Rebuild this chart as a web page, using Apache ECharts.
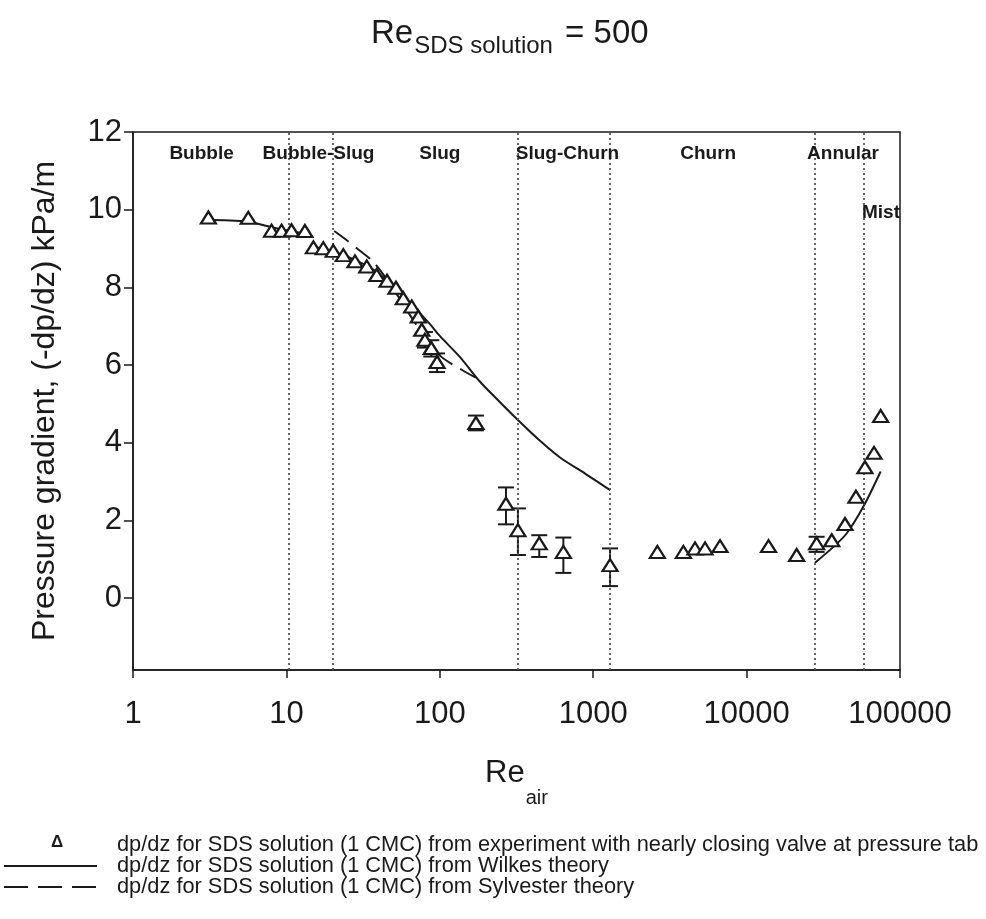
<!DOCTYPE html>
<html>
<head>
<meta charset="utf-8">
<title>Re SDS solution = 500</title>
<script src="https://cdn.jsdelivr.net/npm/echarts@6/dist/echarts.min.js"></script>
<style>
  html, body { margin: 0; padding: 0; background: #ffffff; }
  #chart { width: 986px; height: 919px; }
</style>
</head>
<body>
<div id="chart"></div>
<script>
// Experimental pressure gradient (kPa/m) against air Reynolds number
const expRe   = [3.1, 5.64, 8.0, 9.3, 10.8, 13.2, 15.0, 17.4, 20.2, 23.5, 28.0, 33.4, 38.8, 45.3, 51.8, 57.8, 65.6, 72.4, 76.3, 80, 88, 96,
                 172, 270, 323, 445, 639, 1288, 2620, 3870, 4610, 5360, 6710, 13900, 21200, 28600, 35900, 43800, 51600, 59100, 67700, 74800];
const expDpdz = [9.80, 9.79, 9.46, 9.46, 9.47, 9.45, 9.03, 9.01, 8.94, 8.83, 8.67, 8.54, 8.32, 8.17, 7.99, 7.72, 7.51, 7.25, 6.91, 6.65, 6.44, 6.08,
                 4.51, 2.43, 1.75, 1.41, 1.19, 0.85, 1.19, 1.19, 1.28, 1.28, 1.34, 1.34, 1.11, 1.41, 1.49, 1.91, 2.61, 3.37, 3.74, 4.69];

// Error bars on selected experimental points
const errRe   = [80, 88, 96, 172, 270, 323, 445, 639, 1288, 28600];
const errLow  = [6.45, 6.22, 5.82, 4.32, 1.90, 1.11, 1.06, 0.65, 0.31, 1.19];
const errHigh = [6.85, 6.64, 6.30, 4.70, 2.85, 2.31, 1.62, 1.56, 1.28, 1.58];

// Wilkes theory, three separate branches (bubble, slug, annular)
const wilkesBubbleRe   = [2.9, 5.6, 8.0, 13.3];
const wilkesBubbleDpdz = [9.74, 9.69, 9.55, 9.38];
const wilkesSlugRe     = [14.8, 20, 28, 37, 47, 64, 86, 100, 135, 183, 246, 332, 450, 608, 890, 1290];
const wilkesSlugDpdz   = [9.05, 8.92, 8.71, 8.45, 8.12, 7.60, 7.06, 6.75, 6.21, 5.57, 5.05, 4.54, 4.05, 3.62, 3.20, 2.78];
const wilkesAnnRe      = [27900, 36800, 45000, 57600, 74800];
const wilkesAnnDpdz    = [0.91, 1.32, 1.67, 2.35, 3.26];

// Sylvester theory
const sylRe   = [20.5, 25, 30, 37, 50, 70, 100, 139, 178];
const sylDpdz = [9.45, 9.20, 8.95, 8.65, 7.95, 7.05, 6.25, 5.88, 5.64];

// Flow regime boundaries and names
const boundaryRe  = [10.4, 20, 320, 1290, 28000, 58000];
const regimeNames = ['Bubble', 'Bubble-Slug', 'Slug', 'Slug-Churn', 'Churn', 'Annular', 'Mist'];
const regimeRe    = [2.8, 16.2, 100, 680, 5620, 42500, 75200];
const regimeDpdz  = [11.43, 11.43, 11.43, 11.43, 11.43, 11.43, 9.93];

// Axis ticks
const yTicks = [0, 2, 4, 6, 8, 10, 12];
const xTicks = [1, 10, 100, 1000, 10000, 100000];

const legendLabels = [
  'dp/dz for SDS solution (1 CMC) from experiment with nearly closing valve at pressure tab',
  'dp/dz for SDS solution (1 CMC) from Wilkes theory',
  'dp/dz for SDS solution (1 CMC) from Sylvester theory'
];

const INK = '#1a1a1a';
const FONT = '"Liberation Sans", Arial, Helvetica, sans-serif';

function pairs(xs, ys) { return xs.map((x, i) => [x, ys[i]]); }

const wilkesData = pairs(wilkesBubbleRe, wilkesBubbleDpdz)
  .concat([['-', '-']])
  .concat(pairs(wilkesSlugRe, wilkesSlugDpdz))
  .concat([['-', '-']])
  .concat(pairs(wilkesAnnRe, wilkesAnnDpdz));

const chart = echarts.init(document.getElementById('chart'), null, { renderer: 'canvas' });

const option = {
  animation: false,
  backgroundColor: '#ffffff',
  textStyle: { fontFamily: FONT, color: INK },
  title: {
    text: '{re|Re}{sub|SDS solution}{re| = 500}',
    left: 366,
    top: 12,
    textStyle: {
      fontWeight: 'normal',
      rich: {
        re:  { fontSize: 33, fontWeight: 'normal', fontFamily: FONT, color: INK, verticalAlign: 'top', lineHeight: 35 },
        sub: { fontSize: 24, fontWeight: 'normal', fontFamily: FONT, color: INK, verticalAlign: 'top', lineHeight: 26, padding: [17, 3, 0, 1] }
      }
    }
  },
  grid: {
    left: 133, right: 86, top: 132, bottom: 249,
    show: true, borderColor: INK, borderWidth: 1.5, backgroundColor: 'transparent'
  },
  xAxis: {
    type: 'log',
    logBase: 10,
    min: xTicks[0],
    max: xTicks[xTicks.length - 1],
    name: '{re|Re}{sub|air}',
    nameLocation: 'middle',
    nameGap: 88,
    nameTextStyle: {
      rich: {
        re:  { fontSize: 31, fontFamily: FONT, color: INK, verticalAlign: 'top', lineHeight: 33 },
        sub: { fontSize: 20, fontFamily: FONT, color: INK, verticalAlign: 'top', lineHeight: 22, padding: [30, 0, 0, 1] }
      }
    },
    axisLine: { onZero: false, lineStyle: { color: INK, width: 1.5 } },
    axisTick: { length: 8, lineStyle: { color: INK, width: 1.5 } },
    minorTick: { show: false },
    splitLine: { show: false },
    axisLabel: {
      fontSize: 31, color: INK, fontFamily: FONT, margin: 29,
      formatter: v => String(Math.round(v))
    }
  },
  yAxis: {
    type: 'value',
    min: -1.85,
    max: 12,
    splitNumber: 7,
    name: 'Pressure gradient, (-dp/dz) kPa/m',
    nameLocation: 'middle',
    nameRotate: 90,
    nameGap: 72,
    nameTextStyle: { fontSize: 32, fontFamily: FONT, color: INK },
    axisLine: { lineStyle: { color: INK, width: 1.5 } },
    axisTick: { length: 9, lineStyle: { color: INK, width: 1.5 }, customValues: yTicks },
    splitLine: { show: false },
    axisLabel: { fontSize: 31, color: INK, fontFamily: FONT, margin: 11, customValues: yTicks }
  },
  series: [
    {
      name: 'boundaries',
      type: 'line',
      data: [],
      silent: true,
      markLine: {
        silent: true,
        symbol: 'none',
        label: { show: false },
        lineStyle: { color: '#555', width: 1.8, type: [2, 3] },
        data: boundaryRe.map(v => ({ xAxis: v }))
      }
    },
    {
      name: legendLabels[1],
      type: 'line',
      data: wilkesData,
      connectNulls: false,
      symbol: 'none',
      smooth: 0.3,
      lineStyle: { color: INK, width: 2 },
      z: 3
    },
    {
      name: legendLabels[2],
      type: 'line',
      data: pairs(sylRe, sylDpdz),
      symbol: 'none',
      smooth: 0.3,
      lineStyle: { color: INK, width: 2, type: [18, 9] },
      z: 3
    },
    {
      name: 'error bars',
      type: 'custom',
      data: errRe.map((x, i) => [x, errLow[i], errHigh[i]]),
      encode: { x: 0, y: [1, 2] },
      z: 4,
      renderItem: function (params, api) {
        const x = api.value(0);
        const lo = api.coord([x, api.value(1)]);
        const hi = api.coord([x, api.value(2)]);
        const cap = 8;
        const style = { stroke: INK, lineWidth: 2 };
        return {
          type: 'group',
          children: [
            { type: 'line', shape: { x1: lo[0], y1: lo[1], x2: hi[0], y2: hi[1] }, style: style },
            { type: 'line', shape: { x1: hi[0] - cap, y1: hi[1], x2: hi[0] + cap, y2: hi[1] }, style: style },
            { type: 'line', shape: { x1: lo[0] - cap, y1: lo[1], x2: lo[0] + cap, y2: lo[1] }, style: style }
          ]
        };
      }
    },
    {
      name: legendLabels[0],
      type: 'scatter',
      data: pairs(expRe, expDpdz),
      symbol: 'triangle',
      symbolSize: [15, 12],
      itemStyle: { color: '#ffffff', borderColor: INK, borderWidth: 2.2, opacity: 1 },
      z: 5
    },
    {
      name: 'regimes',
      type: 'scatter',
      data: regimeNames.map((n, i) => ({ name: n, value: [regimeRe[i], regimeDpdz[i]] })),
      symbolSize: 0,
      silent: true,
      itemStyle: { opacity: 1 },
      label: {
        show: true,
        position: 'inside',
        formatter: p => p.name,
        fontSize: 19,
        fontWeight: 'bold',
        fontFamily: FONT,
        color: INK
      },
      z: 6
    }
  ],
  graphic: [
    { type: 'text', x: 57, y: 842, style: { text: 'Δ', font: 'bold 17px ' + FONT, fill: INK, align: 'center', verticalAlign: 'middle' } },
    { type: 'text', x: 117, y: 845, style: { text: legendLabels[0], font: '21.8px ' + FONT, fill: INK, verticalAlign: 'middle' } },
    { type: 'line', shape: { x1: 4, y1: 866, x2: 97, y2: 866 }, style: { stroke: INK, lineWidth: 2 } },
    { type: 'text', x: 117, y: 866, style: { text: legendLabels[1], font: '21.8px ' + FONT, fill: INK, verticalAlign: 'middle' } },
    { type: 'line', shape: { x1: 4, y1: 887, x2: 97, y2: 887 }, style: { stroke: INK, lineWidth: 2, lineDash: [24, 10] } },
    { type: 'text', x: 117, y: 887, style: { text: legendLabels[2], font: '21.8px ' + FONT, fill: INK, verticalAlign: 'middle' } }
  ]
};

chart.setOption(option);
</script>
</body>
</html>
